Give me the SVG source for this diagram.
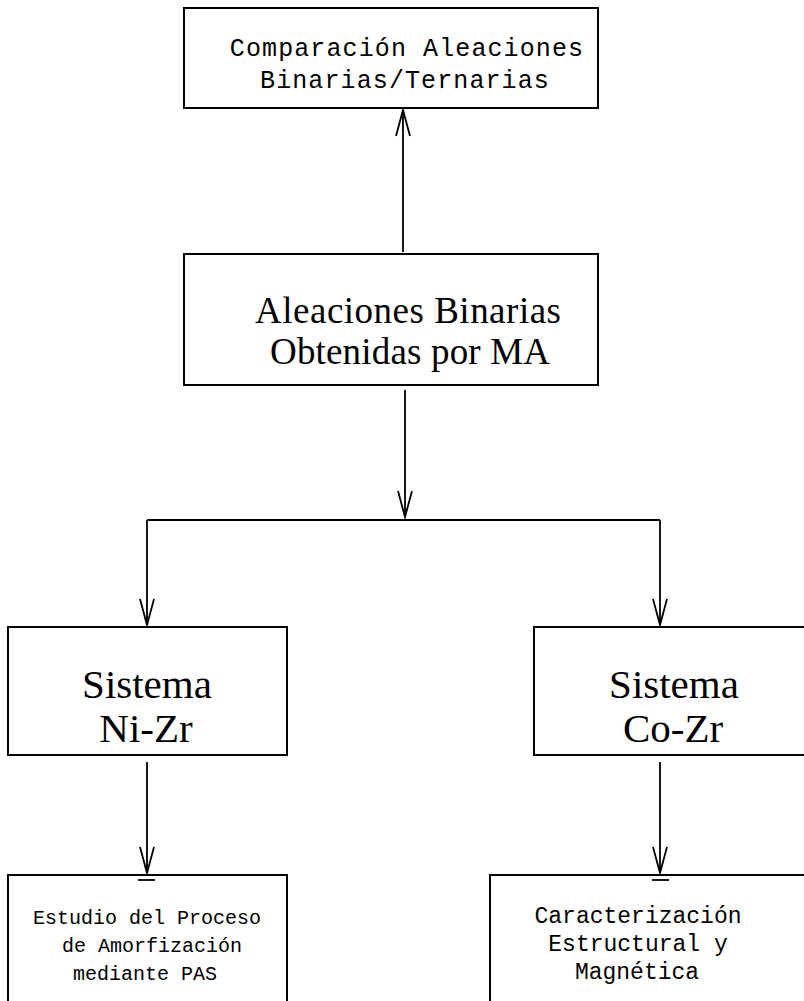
<svg xmlns="http://www.w3.org/2000/svg" width="804" height="1001" viewBox="0 0 804 1001">
<style>
.box{fill:#fff;stroke:#000;stroke-width:2}
.ln{fill:none;stroke:#000;stroke-width:1.8}
.mono{font-family:"Liberation Mono","Courier New",monospace;fill:#000;text-anchor:middle}
.big{font-family:"Liberation Serif","Times New Roman",serif;fill:#000;text-anchor:middle}
</style>
<defs>
<marker id="v" viewBox="-28 -9 30 18" refX="0" refY="0" markerWidth="30" markerHeight="18" orient="auto" markerUnits="userSpaceOnUse">
<path d="M-26,-7 L0,0 L-26,7" fill="none" stroke="#000" stroke-width="1.8"/>
</marker>
</defs>
<rect width="804" height="1001" fill="#fff"/>
<g id="connectors">
<path class="ln" d="M403,252 L403,110" marker-end="url(#v)"/>
<path class="ln" d="M405,390 L405,517" marker-end="url(#v)"/>
<path class="ln" d="M147,520 L660,520"/>
<path class="ln" d="M147,520 L147,625" marker-end="url(#v)"/>
<path class="ln" d="M660,520 L660,625" marker-end="url(#v)"/>
<path class="ln" d="M147,762 L147,873" marker-end="url(#v)"/>
<path class="ln" d="M660,762 L660,873" marker-end="url(#v)"/>
</g>
<g id="n1">
<rect class="box" x="184" y="8" width="414" height="100"/>
<text class="mono" font-size="25" letter-spacing="1.1" x="407" y="56">Comparación Aleaciones</text>
<text class="mono" font-size="25" letter-spacing="1.1" x="405" y="88">Binarias/Ternarias</text>
</g>
<g id="n2">
<rect class="box" x="184" y="254" width="414" height="131"/>
<text class="big" font-size="37" textLength="306" x="408" y="323">Aleaciones Binarias</text>
<text class="big" font-size="37" textLength="280" x="410" y="364">Obtenidas por MA</text>
</g>
<g id="n3">
<rect class="box" x="8" y="627" width="279" height="128"/>
<text class="big" font-size="41" x="147" y="698">Sistema</text>
<text class="big" font-size="41" x="146" y="742">Ni-Zr</text>
</g>
<g id="n4">
<rect class="box" x="534" y="627" width="280" height="128"/>
<text class="big" font-size="41" x="674" y="698">Sistema</text>
<text class="big" font-size="41" x="673" y="742">Co-Zr</text>
</g>
<g id="n5">
<rect class="box" x="8" y="875" width="279" height="140"/>
<line class="ln" x1="138" y1="880" x2="155" y2="880"/>
<text class="mono" font-size="20" x="147" y="924">Estudio del Proceso</text>
<text class="mono" font-size="20" x="152" y="952">de Amorfización</text>
<text class="mono" font-size="20" x="145" y="980">mediante PAS</text>
</g>
<g id="n6">
<rect class="box" x="490" y="875" width="330" height="140"/>
<line class="ln" x1="652" y1="880" x2="669" y2="880"/>
<text class="mono" font-size="23" x="638" y="923">Caracterización</text>
<text class="mono" font-size="23" x="638" y="951">Estructural y</text>
<text class="mono" font-size="23" x="637" y="979">Magnética</text>
</g>
</svg>
